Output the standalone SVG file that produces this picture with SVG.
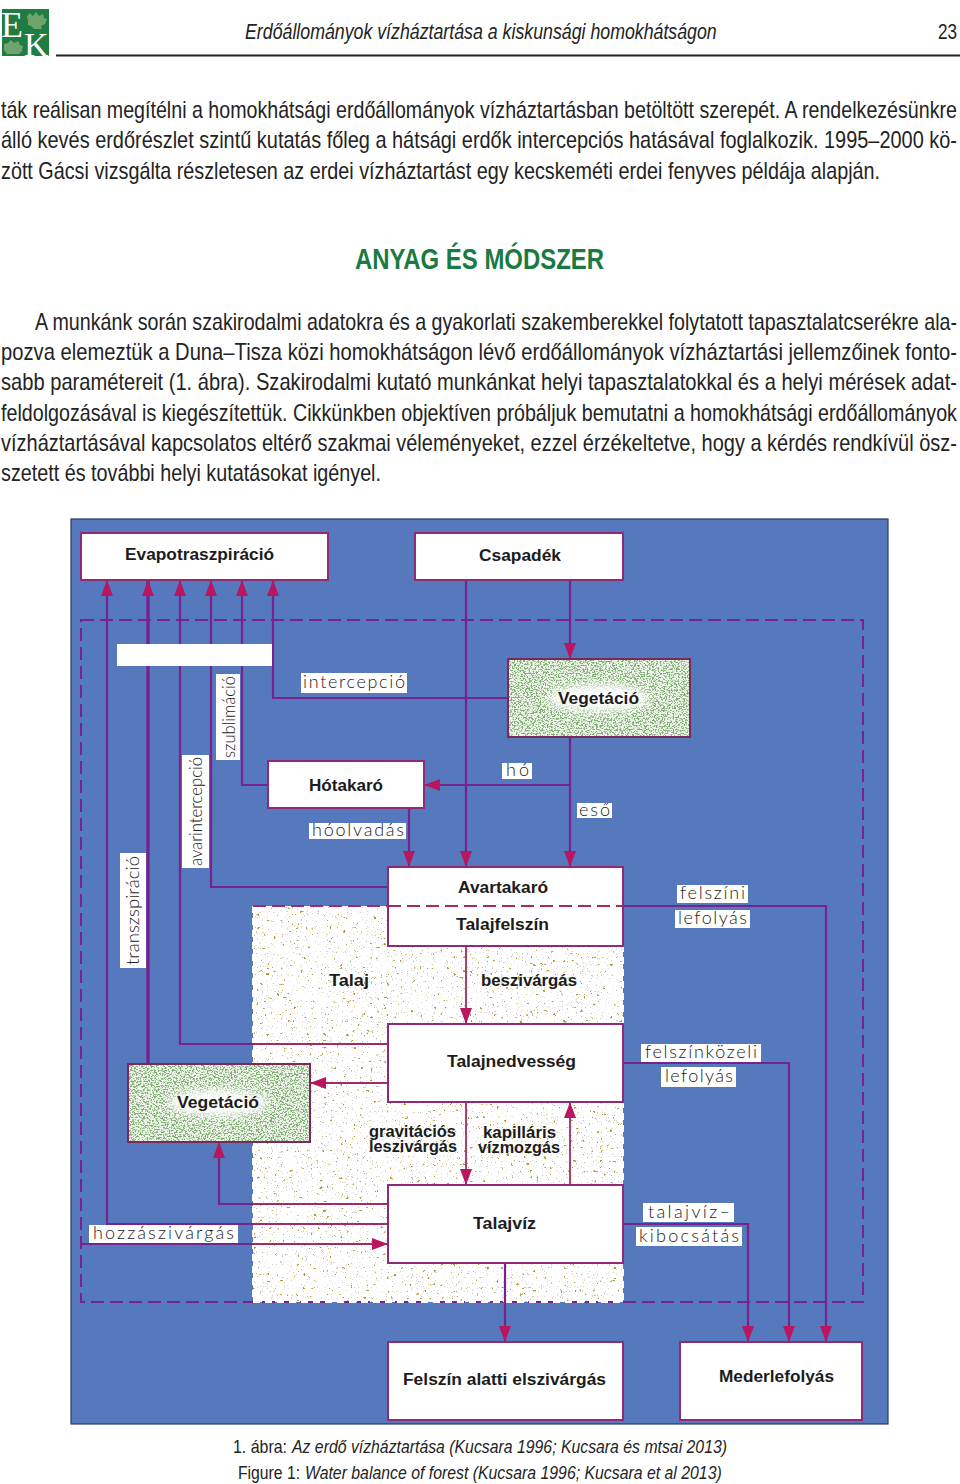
<svg xmlns="http://www.w3.org/2000/svg" width="960" height="1484" viewBox="0 0 960 1484">
<style>
.b{font-family:"Liberation Sans",Arial,sans-serif;font-size:23px;fill:#232323}
.h{font-size:22px}
.i{font-style:italic}
.c{font-family:"Liberation Sans",Arial,sans-serif;font-size:18.5px;fill:#232323}
.n{font-family:"Liberation Sans",Arial,sans-serif;font-size:16px;font-weight:bold;fill:#1c1c1c}
.t{font-family:Lato,"Liberation Sans",Arial,sans-serif;font-size:18px;font-weight:300;fill:#222}
.l{fill:#fff}
.box{fill:#fff;stroke:#8f2a78;stroke-width:2}
.line{fill:none;stroke:#77238f;stroke-width:2.2}
.soilline{fill:none;stroke:#a32a63;stroke-width:1.8}
.thick{stroke-width:3.4}
.arr{marker-end:url(#ah)}
</style>
<defs>
<marker id="ah" markerUnits="userSpaceOnUse" markerWidth="17" markerHeight="13" refX="16" refY="6.5" orient="auto"><path d="M0 .5L16 6.5L0 12.5Z" fill="#b8175f"/></marker>
<filter id="soilA" x="0" y="0" width="100%" height="100%" color-interpolation-filters="sRGB"><feTurbulence type="fractalNoise" baseFrequency="0.8" numOctaves="1" seed="4"/><feColorMatrix values="0 0 0 0 .72 0 0 0 0 .72 0 0 0 0 .66 9 0 0 0 -5.9"/></filter>
<filter id="soilB" x="0" y="0" width="100%" height="100%" color-interpolation-filters="sRGB"><feTurbulence type="fractalNoise" baseFrequency="0.3" numOctaves="2" seed="11"/><feColorMatrix values="0 0 0 0 .7 0 0 0 0 .6 0 0 0 0 .2 16 0 0 0 -11.4"/></filter>
<filter id="veg" x="0" y="0" width="100%" height="100%" color-interpolation-filters="sRGB"><feTurbulence type="fractalNoise" baseFrequency="0.55 0.75" numOctaves="2" seed="7"/><feColorMatrix values="0 0 0 0 .5 0 0 0 0 .68 0 0 0 0 .45 7 0 0 0 -3.3"/></filter>
<filter id="blur" x="-30%" y="-50%" width="160%" height="200%"><feGaussianBlur stdDeviation="5"/></filter>
</defs>
<rect width="960" height="1484" fill="#fff"/>

<g id="logo">
<rect x="2" y="9" width="47" height="47" fill="#1f7c42"/>
<path d="M27 16l3-3 3 3 3-4 3 4 4-2 1 4 3 1-2 5-4 2 1 3h-8l-3-3-3-1v-4z M4 44l4-1 3-3 3 3 4-2 2 4 3 1-1 5-3 3H7l-3-4z" fill="#6fa56d"/>
<text x="1" y="37" font-family="Liberation Serif,serif" font-size="36" fill="#fff">E</text>
<text x="24" y="56" font-family="Liberation Serif,serif" font-size="34" fill="#fff">K</text>
</g>
<g id="page-header">
<text class="b i h" transform="translate(245,39) scale(.85,1)" textLength="555" lengthAdjust="spacingAndGlyphs">Erdőállományok vízháztartása a kiskunsági homokhátságon</text>
<text class="b h" transform="translate(938,39) scale(.85,1)" textLength="22.4" lengthAdjust="spacingAndGlyphs">23</text>
<line x1="56" y1="55.5" x2="960" y2="55.5" stroke="#222" stroke-width="2"/>
</g>
<g id="body-text">
<text class="b" transform="translate(1,118) scale(.853,1)" textLength="1120.7" lengthAdjust="spacingAndGlyphs">ták reálisan megítélni a homokhátsági erdőállományok vízháztartásban betöltött szerepét. A rendelkezésünkre</text>
<text class="b" transform="translate(1,148) scale(.853,1)" textLength="1120.7" lengthAdjust="spacingAndGlyphs">álló kevés erdőrészlet szintű kutatás főleg a hátsági erdők intercepciós hatásával foglalkozik. 1995–2000 kö-</text>
<text class="b" transform="translate(1,179) scale(.853,1)" textLength="1030.5" lengthAdjust="spacingAndGlyphs">zött Gácsi vizsgálta részletesen az erdei vízháztartást egy kecskeméti erdei fenyves példája alapján.</text>
<text transform="translate(355,269) scale(.85,1)" font-family="Liberation Sans,sans-serif" font-weight="bold" font-size="30" fill="#1b7a40" textLength="293" lengthAdjust="spacingAndGlyphs">ANYAG ÉS MÓDSZER</text>
<text class="b" transform="translate(35,330) scale(.853,1)" textLength="1080.9" lengthAdjust="spacingAndGlyphs">A munkánk során szakirodalmi adatokra és a gyakorlati szakemberekkel folytatott tapasztalatcserékre ala-</text>
<text class="b" transform="translate(1,360) scale(.853,1)" textLength="1120.7" lengthAdjust="spacingAndGlyphs">pozva elemeztük a Duna–Tisza közi homokhátságon lévő erdőállományok vízháztartási jellemzőinek fonto-</text>
<text class="b" transform="translate(1,390) scale(.853,1)" textLength="1120.7" lengthAdjust="spacingAndGlyphs">sabb paramétereit (1. ábra). Szakirodalmi kutató munkánkat helyi tapasztalatokkal és a helyi mérések adat-</text>
<text class="b" transform="translate(1,421) scale(.853,1)" textLength="1120.7" lengthAdjust="spacingAndGlyphs">feldolgozásával is kiegészítettük. Cikkünkben objektíven próbáljuk bemutatni a homokhátsági erdőállományok</text>
<text class="b" transform="translate(1,451) scale(.853,1)" textLength="1120.7" lengthAdjust="spacingAndGlyphs">vízháztartásával kapcsolatos eltérő szakmai véleményeket, ezzel érzékeltetve, hogy a kérdés rendkívül ösz-</text>
<text class="b" transform="translate(1,481) scale(.853,1)" textLength="445.5" lengthAdjust="spacingAndGlyphs">szetett és további helyi kutatásokat igényel.</text>
</g>

<rect id="panel" x="71" y="519" width="817" height="905" fill="#5679bd" stroke="#2a3a5a" stroke-width="1.2"/>
<g id="soil">
<rect x="253" y="906" width="370" height="396" fill="#fff"/>
<rect x="253" y="906" width="370" height="396" filter="url(#soilA)"/>
<rect x="253" y="906" width="370" height="396" filter="url(#soilB)"/>
</g>
<path id="system-boundary" d="M81 620H863V1302H81Z" fill="none" stroke="#77238f" stroke-width="2" stroke-dasharray="13 6"/>
<path d="M253 906V1302H623V946" fill="none" stroke="#fff" stroke-width="2" stroke-dasharray="7 5"/>
<path d="M253 906H388" fill="none" stroke="#a32a63" stroke-width="2" stroke-dasharray="13 6"/>

<g id="connectors">
<path class="line arr" d="M388 1224H107V580"/>
<path class="line thick arr" d="M148 1064V580"/>
<path class="line arr" d="M388 1044H180V580"/>
<path class="line arr" d="M388 887H211V580"/>
<path class="line arr" d="M268 785H242V580"/>
<path class="line arr" d="M508 698H273V580"/>
<path class="line arr" d="M466 580V867"/>
<path class="line arr" d="M570 580V659"/>
<path class="line arr" d="M570 737V867"/>
<path class="line arr" d="M570 785H424"/>
<path class="line arr" d="M409 808V867"/>
<path class="soilline arr" d="M466 946V1024"/>
<path class="soilline arr" d="M466 1102V1185"/>
<path class="soilline arr" d="M570 1185V1102"/>
<path class="soilline arr" d="M388 1083H310"/>
<path class="line arr" d="M388 1204H219V1142"/>
<path class="line arr" d="M81 1244H388"/>
<path class="line arr" d="M505 1263V1342"/>
<path class="line arr" d="M623 906H826V1342"/>
<path class="line arr" d="M623 1063H789V1342"/>
<path class="line arr" d="M623 1224H748V1342"/>
<path class="soilline" d="M253 1044H388M253 1204H388M253 1224H388M253 1244H372"/>
</g>

<rect id="blank-bar" x="117" y="644" width="155" height="22" fill="#fff"/>

<g id="node-evapotranspiracio"><rect class="box" x="81" y="533" width="247" height="47"/><text class="n" x="125" y="560" textLength="149" lengthAdjust="spacingAndGlyphs">Evapotraszpiráció</text></g>
<g id="node-csapadek"><rect class="box" x="415" y="533" width="208" height="47"/><text class="n" x="479" y="561" textLength="82" lengthAdjust="spacingAndGlyphs">Csapadék</text></g>
<g id="node-vegetacio-1"><rect x="508" y="659" width="182" height="78" fill="#f0f6ec"/><rect x="508" y="659" width="182" height="78" filter="url(#veg)"/><ellipse cx="599" cy="698" rx="50" ry="13" fill="#fff" filter="url(#blur)"/><rect x="508" y="659" width="182" height="78" fill="none" stroke="#7a2a5a" stroke-width="2"/><text class="n" x="558" y="704" textLength="81" lengthAdjust="spacingAndGlyphs">Vegetáció</text></g>
<g id="node-hotakaro"><rect class="box" x="268" y="761" width="156" height="47"/><text class="n" x="309" y="791" textLength="74" lengthAdjust="spacingAndGlyphs">Hótakaró</text></g>
<g id="node-avartakaro"><rect class="box" x="388" y="867" width="235" height="79"/><path d="M388 906H623" stroke="#a32a63" stroke-width="2" stroke-dasharray="13 6"/><text class="n" x="458" y="893" textLength="90" lengthAdjust="spacingAndGlyphs">Avartakaró</text><text class="n" x="456" y="930" textLength="93" lengthAdjust="spacingAndGlyphs">Talajfelszín</text></g>
<g id="node-talaj"><text class="n" x="329" y="986" textLength="40" lengthAdjust="spacingAndGlyphs">Talaj</text></g>
<g id="node-talajnedvesseg"><rect class="box" x="388" y="1024" width="235" height="78"/><text class="n" x="447" y="1067" textLength="129" lengthAdjust="spacingAndGlyphs">Talajnedvesség</text></g>
<g id="node-vegetacio-2"><rect x="128" y="1064" width="182" height="78" fill="#f0f6ec"/><rect x="128" y="1064" width="182" height="78" filter="url(#veg)"/><ellipse cx="218" cy="1103" rx="50" ry="13" fill="#fff" filter="url(#blur)"/><rect x="128" y="1064" width="182" height="78" fill="none" stroke="#7a2a5a" stroke-width="2"/><text class="n" x="177" y="1108" textLength="82" lengthAdjust="spacingAndGlyphs">Vegetáció</text></g>
<g id="node-talajviz"><rect class="box" x="388" y="1185" width="235" height="78"/><text class="n" x="473" y="1229" textLength="63" lengthAdjust="spacingAndGlyphs">Talajvíz</text></g>
<g id="node-felszin-alatti"><rect class="box" x="388" y="1342" width="235" height="78"/><text class="n" x="403" y="1385" textLength="203" lengthAdjust="spacingAndGlyphs">Felszín alatti elszivárgás</text></g>
<g id="node-mederlefolyas"><rect class="box" x="680" y="1342" width="182" height="78"/><text class="n" x="719" y="1382" textLength="115" lengthAdjust="spacingAndGlyphs">Mederlefolyás</text></g>

<g id="soil-labels">
<text class="n" x="481" y="986" textLength="96" lengthAdjust="spacingAndGlyphs">beszivárgás</text>
<text class="n" x="369" y="1137" textLength="87" lengthAdjust="spacingAndGlyphs">gravitációs</text>
<text class="n" x="369" y="1152" textLength="88" lengthAdjust="spacingAndGlyphs">leszivárgás</text>
<text class="n" x="483" y="1138" textLength="73" lengthAdjust="spacingAndGlyphs">kapilláris</text>
<text class="n" x="478" y="1153" textLength="82" lengthAdjust="spacingAndGlyphs">vízmozgás</text>
</g>
<g id="flow-labels">
<rect class="l" x="301" y="673" width="106" height="20"/><text class="t" x="303" y="688" textLength="102" lengthAdjust="spacing">intercepció</text>
<rect class="l" x="216" y="674" width="24" height="86"/><text class="t" transform="translate(235,758) rotate(-90)" textLength="82" lengthAdjust="spacingAndGlyphs">szublimáció</text>
<rect class="l" x="182" y="755" width="27" height="113"/><text class="t" transform="translate(202,866) rotate(-90)" textLength="109" lengthAdjust="spacingAndGlyphs">avarintercepció</text>
<rect class="l" x="120" y="853" width="26" height="115"/><text class="t" transform="translate(139,965) rotate(-90)" textLength="109" lengthAdjust="spacingAndGlyphs">transzspiráció</text>
<rect class="l" x="309" y="823" width="97" height="16"/><text class="t" x="312" y="836" textLength="92" lengthAdjust="spacing">hóolvadás</text>
<rect class="l" x="502" y="763" width="30" height="16"/><text class="t" x="506" y="776" textLength="23" lengthAdjust="spacing">hó</text>
<rect class="l" x="577" y="803" width="35" height="15"/><text class="t" x="579" y="816" textLength="31" lengthAdjust="spacing">eső</text>
<rect class="l" x="677" y="885" width="71" height="18"/><text class="t" x="680" y="899" textLength="65" lengthAdjust="spacing">felszíni</text>
<rect class="l" x="675" y="910" width="75" height="18"/><text class="t" x="678" y="924" textLength="69" lengthAdjust="spacing">lefolyás</text>
<rect class="l" x="641" y="1044" width="120" height="18"/><text class="t" x="645" y="1058" textLength="112" lengthAdjust="spacing">felszínközeli</text>
<rect class="l" x="661" y="1067" width="75" height="20"/><text class="t" x="665" y="1082" textLength="68" lengthAdjust="spacing">lefolyás</text>
<rect class="l" x="643" y="1203" width="91" height="19"/><text class="t" x="648" y="1218" textLength="82" lengthAdjust="spacing">talajvíz–</text>
<rect class="l" x="636" y="1227" width="106" height="19"/><text class="t" x="639" y="1242" textLength="100" lengthAdjust="spacing">kibocsátás</text>
<rect class="l" x="89" y="1225" width="149" height="18"/><text class="t" x="93" y="1239" textLength="141" lengthAdjust="spacing">hozzászivárgás</text>
</g>

<g id="caption">
<text class="c" x="233" y="1453" textLength="54" lengthAdjust="spacingAndGlyphs">1. ábra:</text>
<text class="c i" transform="translate(292,1453) scale(.87,1)" textLength="500" lengthAdjust="spacingAndGlyphs">Az erdő vízháztartása (Kucsara 1996; Kucsara és mtsai 2013)</text>
<text class="c" x="238" y="1479" textLength="62" lengthAdjust="spacingAndGlyphs">Figure 1:</text>
<text class="c i" transform="translate(305,1479) scale(.87,1)" textLength="479" lengthAdjust="spacingAndGlyphs">Water balance of forest (Kucsara 1996; Kucsara et al 2013)</text>
</g>
</svg>
